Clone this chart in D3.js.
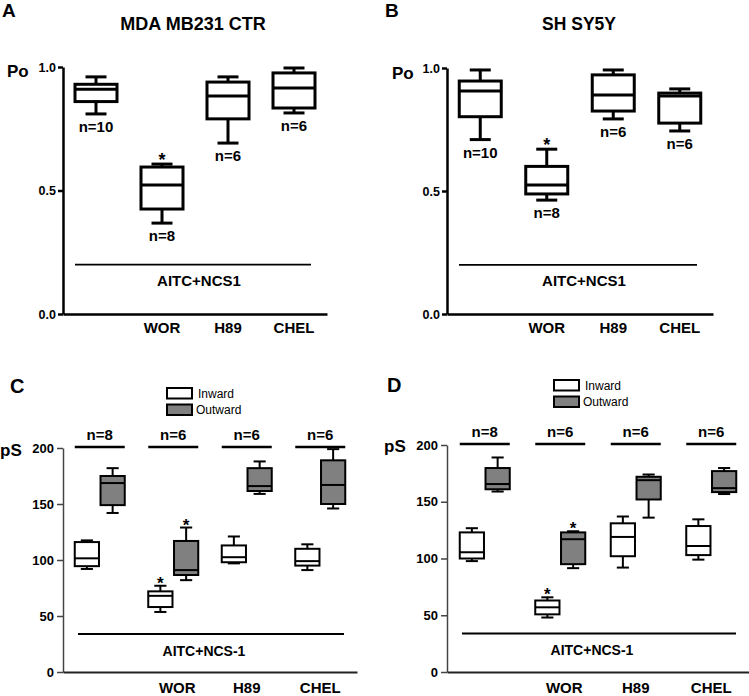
<!DOCTYPE html>
<html><head><meta charset="utf-8">
<script src="https://cdn.jsdelivr.net/npm/d3@7"></script>
<style>body{margin:0;background:#fff} svg{display:block}</style>
</head><body><svg id="c" width="749" height="696"></svg>
<script>
// ---------- DATA ----------
const categories = ["AITC+NCS1", "WOR", "H89", "CHEL"];
const categoryLabels = ["", "WOR", "H89", "CHEL"];
// each row: [min, q1, median, q3, max]
const poMDA = [[0.81,0.86,0.91,0.93,0.96],[0.368,0.425,0.522,0.595,0.607],[0.692,0.79,0.883,0.939,0.96],[0.814,0.834,0.915,0.976,0.996]];
const poSHSY = [[0.709,0.802,0.907,0.947,0.992],[0.463,0.488,0.524,0.60,0.67],[0.793,0.825,0.89,0.972,0.992],[0.744,0.776,0.886,0.898,0.915]];
const nMDA = ["n=10","n=8","n=6","n=6"];
const nSHSY = ["n=10","n=8","n=6","n=6"];
const sigPo = [false,true,false,false];
const poTicks = [0,0.5,1.0];
const poTreatmentLevel = 0.2;

const series = ["Inward","Outward"];
const psInwardC = [[92,94.5,101.5,116,117.5],[53.6,58,68,72,77],[97,98,102.5,113,121],[91,95,99,110,114]];
const psOutwardC = [[142,149,168.7,175,182],[82,86.6,91,117,129],[159,161.6,166,182,188],[146,150,167,189,199]];
const psInwardD = [[97.7,100,105.5,123,126.7],[48,50.8,57,63,65.8],[92,102,119,131,137],[99,103,111,128.6,134.5]];
const psOutwardD = [[159,161,165.6,179.7,189],[91.5,95,117,123,124],[136,152,169,172,174],[156.8,158.5,162,177,179.7]];
const nC = ["n=8","n=6","n=6","n=6"];
const nD = ["n=8","n=6","n=6","n=6"];
const sigInward = [false,true,false,false];
const sigOutward = [false,true,false,false];
const psTicks = [0,50,100,150,200];
const psTreatmentLevel = 34;

// ---------- DRAW ----------
const FONT = '"Liberation Sans", Arial, Helvetica, sans-serif';
const svg = d3.select("#c");
const GRAY = "#808080";

function txt(g, x, y, s, size, anchor, weight) {
  return g.append("text").attr("x", x).attr("y", y).text(s)
    .attr("font-family", FONT).attr("font-size", size)
    .attr("font-weight", weight || "bold")
    .attr("text-anchor", anchor || "start").attr("fill", "#000");
}

function drawBox(g, cx, w, d, y, fill, sw) {
  const [mn, q1, md, q3, mx] = d;
  const cw = w / 2;
  const L = (x1, y1, x2, y2) => g.append("line").attr("x1", x1).attr("y1", y1).attr("x2", x2).attr("y2", y2)
    .attr("stroke", "#000").attr("stroke-width", sw);
  L(cx, y(mx), cx, y(q3));
  L(cx, y(q1), cx, y(mn));
  L(cx - cw / 2, y(mx), cx + cw / 2, y(mx));
  L(cx - cw / 2, y(mn), cx + cw / 2, y(mn));
  g.append("rect").attr("x", cx - w / 2).attr("y", y(q3)).attr("width", w).attr("height", y(q1) - y(q3))
    .attr("fill", fill).attr("stroke", "#000").attr("stroke-width", sw);
  L(cx - w / 2, y(md), cx + w / 2, y(md));
}

function styleAxis(a, size, sw, color) {
  a.attr("font-family", FONT);
  a.selectAll("text").attr("font-size", size).attr("font-weight", "bold").attr("fill", "#000");
  a.selectAll("path,line").attr("stroke", color).attr("stroke-width", sw);
}

function poPanel(cfg) {
  const g = svg.append("g");
  const x = d3.scaleBand().domain(categories).range(cfg.xr);
  const y = d3.scaleLinear().domain([0, 1]).range(cfg.yr);
  const ya = g.append("g").attr("transform", `translate(${cfg.xr[0]},0)`)
    .call(d3.axisLeft(y).tickValues(poTicks).tickFormat(d3.format(".1f")).tickSize(5).tickSizeOuter(0).tickPadding(2));
  styleAxis(ya, 12.5, 2.5, "#000");
  const xa = g.append("g").attr("transform", `translate(0,${cfg.yr[0]})`)
    .call(d3.axisBottom(x).tickSize(0).tickSizeOuter(0).tickPadding(8).tickFormat((d, i) => categoryLabels[i]));
  styleAxis(xa, 15, 2.5, "#000");
  xa.selectAll("text").attr("dy", "0.71em");

  cfg.data.forEach((d, i) => {
    const cx = x(categories[i]) + x.bandwidth() / 2;
    drawBox(g, cx, 42, d, y, "#fff", 3);
    txt(g, cx, y(d[0]) + 18, cfg.n[i], 15, "middle");
    if (sigPo[i]) txt(g, cx, y(d[4]) + 2, "*", 18, "middle");
  });
  const x1 = x(categories[0]) + 12, x2 = x(categories[3]) + x.bandwidth() - 16;
  g.append("line").attr("x1", x1).attr("x2", x2).attr("y1", y(poTreatmentLevel)).attr("y2", y(poTreatmentLevel))
    .attr("stroke", "#000").attr("stroke-width", 1.8);
  txt(g, (x1 + x2) / 2 + 6, y(poTreatmentLevel) + 21, "AITC+NCS1", 15, "middle");
  txt(g, cfg.letterX, 17, cfg.letter, 19, "start");
  txt(g, cfg.titleX, 30, cfg.title, cfg.titleSize, "middle");
  txt(g, cfg.poX, cfg.poY, "Po", 17, "start");
}

function psPanel(cfg) {
  const g = svg.append("g");
  const x = d3.scaleBand().domain(categories).range(cfg.xr);
  const inner = d3.scaleBand().domain(series).range([-25, 25]).paddingInner(0.06);
  const y = d3.scaleLinear().domain([0, 200]).range(cfg.yr);
  const ya = g.append("g").attr("transform", `translate(${cfg.xr[0]},0)`)
    .call(d3.axisLeft(y).tickValues(psTicks).tickSize(6).tickSizeOuter(0).tickPadding(3));
  styleAxis(ya, 13, 1.5, "#444");
  const xa = g.append("g").attr("transform", `translate(0,${cfg.yr[0]})`)
    .call(d3.axisBottom(x).tickSize(0).tickSizeOuter(0).tickPadding(10).tickFormat((d, i) => categoryLabels[i]));
  styleAxis(xa, 15, 1.8, "#222");
  xa.selectAll("text").attr("dy", "0.71em").attr("dx", (d, i) => i === 1 ? 4 : 0);

  const bw = inner.bandwidth();
  categories.forEach((c, i) => {
    const gc = x(c) + x.bandwidth() / 2;
    const ci = gc + inner("Inward") + bw / 2;
    const co = gc + inner("Outward") + bw / 2;
    drawBox(g, ci, bw, cfg.inward[i], y, "#fff", 2);
    drawBox(g, co, bw, cfg.outward[i], y, GRAY, 2);
    if (sigInward[i]) txt(g, ci, y(cfg.inward[i][4]) + 3, "*", 17, "middle");
    if (sigOutward[i]) txt(g, co, y(cfg.outward[i][4]) + 3, "*", 17, "middle");
    const yb = y(200) - 1;
    g.append("line").attr("x1", gc - 25).attr("x2", gc + 25).attr("y1", yb).attr("y2", yb)
      .attr("stroke", "#000").attr("stroke-width", 2.5);
    txt(g, gc, yb - 7, cfg.n[i], 15, "middle");
  });
  const x1 = x(categories[0]) + 15, x2 = x(categories[3]) + x.bandwidth() - 13;
  g.append("line").attr("x1", x1).attr("x2", x2).attr("y1", y(psTreatmentLevel)).attr("y2", y(psTreatmentLevel))
    .attr("stroke", "#000").attr("stroke-width", 2);
  txt(g, (x1 + x2) / 2 - 7, y(psTreatmentLevel) + 22, "AITC+NCS-1", 14, "middle");
  txt(g, cfg.letterX, cfg.letterY, cfg.letter, 20, "start");
  txt(g, cfg.psX, cfg.psY, "pS", 17, "start");
  // legend
  const lg = g.append("g");
  series.forEach((s, k) => {
    const ly = cfg.legY + k * 16.5;
    lg.append("rect").attr("x", cfg.legX).attr("y", ly).attr("width", 25).attr("height", 10.5)
      .attr("fill", k === 0 ? "#fff" : GRAY).attr("stroke", "#000").attr("stroke-width", 2);
    txt(lg, cfg.legX + 31 - k * 2, ly + 9.5, s, 12, "start", "normal");
  });
}

poPanel({xr: [63, 327], yr: [314, 67], data: poMDA, n: nMDA, letter: "A", letterX: 2,
  title: "MDA MB231 CTR", titleX: 193, titleSize: 18, poX: 7, poY: 77});
poPanel({xr: [447, 713], yr: [314, 68], data: poSHSY, n: nSHSY, letter: "B", letterX: 385,
  title: "SH SY5Y", titleX: 579, titleSize: 17.5, poX: 392, poY: 79});
psPanel({xr: [63, 357], yr: [672, 448], inward: psInwardC, outward: psOutwardC, n: nC,
  letter: "C", letterX: 10, letterY: 393, psX: 0, psY: 456, legX: 167, legY: 388});
psPanel({xr: [447, 749], yr: [672, 445], inward: psInwardD, outward: psOutwardD, n: nD,
  letter: "D", letterX: 387, letterY: 392, psX: 384, psY: 452, legX: 554, legY: 380});
</script>
</body></html>
